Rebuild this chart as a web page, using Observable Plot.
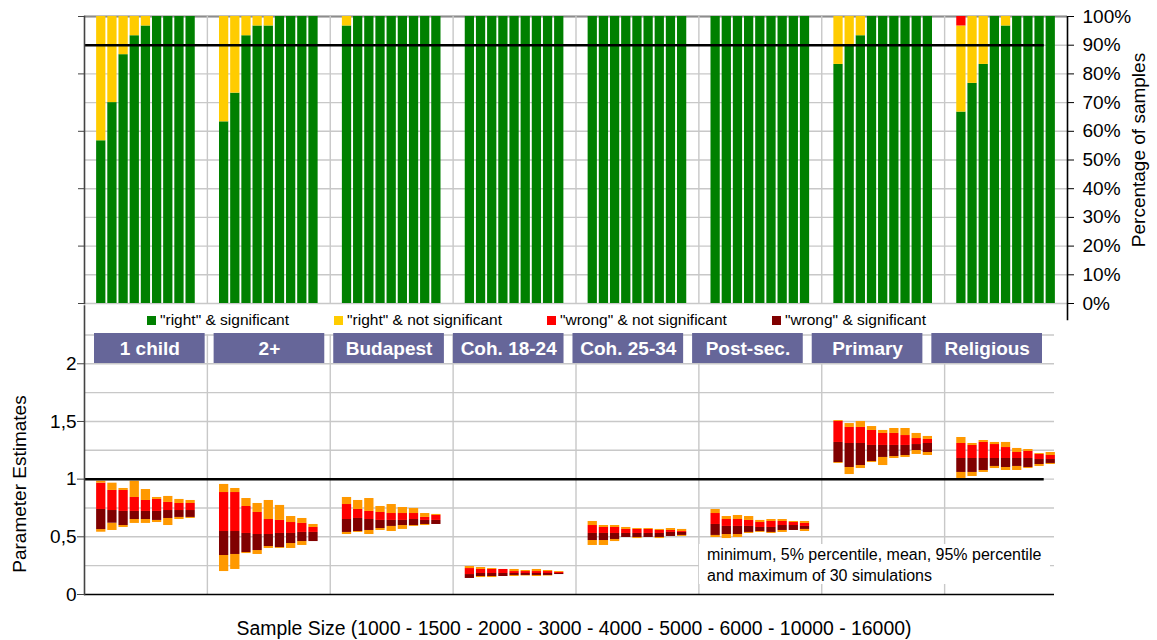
<!DOCTYPE html>
<html><head><meta charset="utf-8">
<script src="https://cdn.jsdelivr.net/npm/d3@7"></script>
<script src="https://cdn.jsdelivr.net/npm/@observablehq/plot@0.6"></script>
<style>
body{margin:0;background:#fff;font-family:"Liberation Sans",Arial,sans-serif;color:#000;}
#chart{position:relative;width:1157px;height:640px;overflow:hidden;background:#fff;}
#chart .layer{position:absolute;left:0;}
#legend{position:absolute;left:147px;top:311px;display:flex;gap:45px;font-size:15.5px;line-height:18px;white-space:nowrap;}
#legend .item{display:flex;align-items:center;gap:4px;}
#legend .sw{display:inline-block;width:9px;height:9px;}
#note{position:absolute;left:699px;top:544px;width:343px;height:40px;background:#fff;font-size:16px;line-height:21px;padding-left:8px;white-space:nowrap;}
.title{position:absolute;font-size:19px;white-space:nowrap;}
</style></head>
<body><div id="chart"></div>
<script>
// ---------- data ----------
const groups = ["1 child","2+","Budapest","Coh. 18-24","Coh. 25-34","Post-sec.","Primary","Religious"];
const sizes = ["1000","1500","2000","3000","4000","5000","6000","10000","16000"];

// top panel: percentage of 30 simulated samples per outcome
const topCats = ['"right" & significant','"right" & not significant','"wrong" & not significant','"wrong" & significant'];
const topColors = ["#008000","#FFCC00","#FF0000","#800000"];
const rightSig = [
  [56.7,70,86.7,93.3,96.7,100,100,100,100],
  [63.3,73.3,93.3,96.7,96.7,100,100,100,100],
  [96.7,100,100,100,100,100,100,100,100],
  [100,100,100,100,100,100,100,100,100],
  [100,100,100,100,100,100,100,100,100],
  [100,100,100,100,100,100,100,100,100],
  [83.3,90,93.3,100,100,100,100,100,100],
  [66.7,76.7,83.3,100,96.7,100,100,100,100]];
const rightNotSig = [
  [43.3,30,13.3,6.7,3.3,0,0,0,0],
  [36.7,26.7,6.7,3.3,3.3,0,0,0,0],
  [3.3,0,0,0,0,0,0,0,0],
  [0,0,0,0,0,0,0,0,0],
  [0,0,0,0,0,0,0,0,0],
  [0,0,0,0,0,0,0,0,0],
  [16.7,10,6.7,0,0,0,0,0,0],
  [30,23.3,16.7,0,3.3,0,0,0,0]];
const wrongNotSig = [
  [0,0,0,0,0,0,0,0,0],[0,0,0,0,0,0,0,0,0],[0,0,0,0,0,0,0,0,0],[0,0,0,0,0,0,0,0,0],
  [0,0,0,0,0,0,0,0,0],[0,0,0,0,0,0,0,0,0],[0,0,0,0,0,0,0,0,0],[3.3,0,0,0,0,0,0,0,0]];
const wrongSig = [
  [0,0,0,0,0,0,0,0,0],[0,0,0,0,0,0,0,0,0],[0,0,0,0,0,0,0,0,0],[0,0,0,0,0,0,0,0,0],
  [0,0,0,0,0,0,0,0,0],[0,0,0,0,0,0,0,0,0],[0,0,0,0,0,0,0,0,0],[0,0,0,0,0,0,0,0,0]];
const topTicks = [0,10,20,30,40,50,60,70,80,90,100];
const topLeftTicks = [0,20,40,60,80,100];
const topThreshold = [90];
const topAxisSpan = [-6, 100];   // right axis line runs a little below 0%

// bottom panel: parameter estimates (min, 5%, mean, 95%, max)
const minV = [
  [0.540,0.555,0.581,0.616,0.616,0.624,0.598,0.650,0.659],
  [0.199,0.217,0.355,0.347,0.399,0.399,0.399,0.425,0.459],
  [0.520,0.538,0.520,0.555,0.546,0.564,0.590,0.598,0.607],
  [0.139,0.147,0.147,0.156,0.156,0.160,0.156,0.160,0.173],
  [0.425,0.425,0.459,0.494,0.485,0.494,0.485,0.503,0.503],
  [0.494,0.485,0.494,0.529,0.538,0.529,0.538,0.555,0.546],
  [1.136,1.040,1.092,1.144,1.118,1.179,1.188,1.214,1.205],
  [1.006,1.023,1.058,1.092,1.075,1.075,1.092,1.110,1.127]];
const p5V = [
  [0.563,0.618,0.598,0.650,0.650,0.642,0.659,0.668,0.668],
  [0.338,0.347,0.364,0.381,0.416,0.407,0.442,0.459,0.459],
  [0.538,0.546,0.555,0.572,0.590,0.598,0.598,0.607,0.607],
  [0.139,0.156,0.156,0.156,0.165,0.165,0.165,0.165,0.173],
  [0.468,0.468,0.477,0.494,0.494,0.494,0.494,0.503,0.512],
  [0.512,0.520,0.520,0.538,0.546,0.538,0.555,0.555,0.564],
  [1.144,1.101,1.118,1.153,1.188,1.196,1.205,1.248,1.231],
  [1.058,1.058,1.075,1.110,1.101,1.110,1.101,1.127,1.136]];
const meanV = [
  [0.737,0.728,0.720,0.720,0.720,0.720,0.728,0.728,0.728],
  [0.546,0.546,0.529,0.520,0.520,0.529,0.529,0.538,0.538],
  [0.650,0.659,0.650,0.642,0.642,0.642,0.650,0.642,0.642],
  [0.173,0.182,0.182,0.182,0.182,0.182,0.182,0.182,0.182],
  [0.529,0.529,0.529,0.529,0.529,0.529,0.529,0.538,0.538],
  [0.607,0.590,0.590,0.590,0.581,0.581,0.598,0.598,0.590],
  [1.318,1.309,1.309,1.292,1.292,1.292,1.292,1.300,1.309],
  [1.179,1.179,1.179,1.179,1.179,1.179,1.179,1.170,1.170]];
const p95V = [
  [0.965,0.902,0.902,0.841,0.815,0.824,0.798,0.789,0.789],
  [0.884,0.884,0.763,0.711,0.650,0.642,0.624,0.616,0.581],
  [0.780,0.737,0.720,0.711,0.702,0.702,0.702,0.668,0.685],
  [0.225,0.217,0.217,0.217,0.199,0.199,0.199,0.199,0.191],
  [0.598,0.581,0.581,0.564,0.564,0.564,0.555,0.555,0.546],
  [0.702,0.650,0.650,0.642,0.624,0.633,0.633,0.624,0.616],
  [1.500,1.448,1.448,1.422,1.396,1.396,1.378,1.352,1.344],
  [1.309,1.292,1.318,1.300,1.274,1.231,1.240,1.214,1.205]];
const maxV = [
  [0.982,0.965,0.919,0.982,0.910,0.841,0.850,0.824,0.815],
  [0.954,0.919,0.832,0.789,0.815,0.772,0.676,0.659,0.607],
  [0.841,0.815,0.832,0.763,0.780,0.754,0.746,0.702,0.694],
  [0.243,0.234,0.225,0.217,0.217,0.208,0.217,0.208,0.199],
  [0.633,0.598,0.598,0.581,0.572,0.572,0.564,0.572,0.564],
  [0.737,0.676,0.685,0.676,0.642,0.650,0.650,0.633,0.633],
  [1.508,1.482,1.500,1.456,1.422,1.439,1.439,1.396,1.370],
  [1.361,1.309,1.335,1.318,1.318,1.266,1.257,1.222,1.231]];
const segNames = ["min-p5","p5-mean","mean-p95","p95-max"];
const segColors = ["#FF9900","#800000","#FF0000","#FF9900"];
const bottomTicks = [0,0.5,1,1.5,2];
const bottomGrid = [0.25,0.5,0.75,1,1.25,1.5,1.75,2,2.25];
const bottomDomain = [0,2.5];
const bottomThreshold = [1];

// ---------- layout ----------
const W = 1157;
const FONT = '"Liberation Sans", Arial, sans-serif';
const GRID = "#c8c8c8";
const xKeys = groups.flatMap(g => [g + "|a", ...sizes.map(s => g + "|" + s), g + "|b"]);
const xRange = [84, 1067];
const step = (xRange[1] - xRange[0]) / xKeys.length;
const xOpts = {domain: xKeys, range: xRange, paddingInner: 0.17, paddingOuter: 0.085, round: false, axis: null};
const sepKeys = groups.slice(1).map(g => g + "|a");
const lineStartKey = xKeys[0];
const lastKey = xKeys[xKeys.length - 1];
const lineEndKey = groups[groups.length - 1] + "|" + sizes[sizes.length - 2];
const svgStyle = {background: "transparent", overflow: "visible", fontFamily: FONT};

const chart = document.getElementById("chart");
function place(node, top) {
  node.classList.add("layer");
  node.style.top = top + "px";
  chart.appendChild(node);
}

// ---------- top plot ----------
const topSeries = [rightSig, rightNotSig, wrongNotSig, wrongSig];
const topRows = [];
groups.forEach((g, gi) => sizes.forEach((s, si) => {
  topCats.forEach((c, ci) => topRows.push({key: g + "|" + s, cat: c, pct: topSeries[ci][gi][si]}));
}));

const topPlot = Plot.plot({
  width: W, height: 322,
  marginLeft: 84, marginRight: W - 1067, marginTop: 16, marginBottom: 19,
  style: svgStyle,
  x: xOpts,
  y: {domain: [0, 100]},
  color: {domain: topCats, range: topColors},
  marks: [
    Plot.gridY(topTicks, {stroke: GRID, strokeOpacity: 1, strokeWidth: 1.4}),
    Plot.ruleY([100], {stroke: "#8c8c8c", strokeWidth: 2}),
    Plot.ruleX(sepKeys, {x: d => d, dx: -step / 2, stroke: GRID, strokeWidth: 1.4}),
    Plot.barY(topRows, {x: "key", y: "pct", fill: "cat"}),
    Plot.ruleY(topThreshold, {x1: () => lineStartKey, x2: () => lineEndKey, stroke: "#000", strokeWidth: 2.5}),
    Plot.axisY(topLeftTicks, {anchor: "left", tickSize: 6, tickFormat: () => "", label: null, stroke: "#444"}),
    Plot.axisY(topTicks, {anchor: "right", tickSize: 6, tickPadding: 9, tickFormat: d => d + "%", fontSize: 19, label: null, stroke: "#000"}),
    Plot.frame({anchor: "left", stroke: "#444", strokeWidth: 1.6}),
    Plot.ruleX([lastKey], {x: d => d, y1: () => topAxisSpan[0], y2: () => topAxisSpan[1], dx: step / 2, stroke: "#000", strokeWidth: 1.6})
  ]
});
place(topPlot, 0);

// ---------- bottom plot ----------
const segRows = [];
groups.forEach((g, gi) => sizes.forEach((s, si) => {
  const v = [minV, p5V, meanV, p95V, maxV].map(a => a[gi][si]);
  segNames.forEach((n, k) => segRows.push({key: g + "|" + s, part: n, lo: v[k], hi: v[k + 1]}));
}));

const bottomPlot = Plot.plot({
  width: W, height: 340,
  marginLeft: 84, marginRight: W - 1054, marginTop: 5.6, marginBottom: 46,
  style: svgStyle,
  x: xOpts,
  y: {domain: bottomDomain},
  color: {domain: segNames, range: segColors},
  marks: [
    Plot.gridY(bottomGrid, {stroke: GRID, strokeOpacity: 1, strokeWidth: 1.4}),
    Plot.ruleX(sepKeys, {x: d => d, y1: () => bottomDomain[0], y2: () => bottomGrid[bottomGrid.length - 1], dx: -step / 2, stroke: GRID, strokeWidth: 1.4}),
    Plot.barY(segRows, {x: "key", y1: "lo", y2: "hi", fill: "part"}),
    Plot.ruleY(bottomThreshold, {x1: () => lineStartKey, x2: () => lineEndKey, stroke: "#000", strokeWidth: 2.5}),
    Plot.ruleY([0], {stroke: "#000", strokeWidth: 1.5}),
    Plot.axisY(bottomTicks, {anchor: "left", tickSize: 7, tickPadding: 1, tickFormat: d => String(d).replace(".", ","), fontSize: 19, label: null, stroke: "#444"}),
    Plot.frame({anchor: "left", stroke: "#444", strokeWidth: 1.6})
  ]
});
place(bottomPlot, 300);

// ---------- category label boxes ----------
const labelPlot = Plot.plot({
  width: W, height: 36,
  marginLeft: 0, marginRight: 0, marginTop: 3, marginBottom: 3,
  style: svgStyle,
  x: {domain: groups, range: [94, 1042], paddingInner: 0.075, paddingOuter: 0, round: false, axis: null},
  marks: [
    Plot.cell(groups, {x: d => d, fill: "#666699"}),
    Plot.text(groups, {x: d => d, text: d => d, fill: "#fff", fontWeight: "bold", fontSize: 19})
  ]
});
place(labelPlot, 330);

// ---------- legend ----------
const legend = document.createElement("div");
legend.id = "legend";
topCats.forEach((c, i) => {
  const item = document.createElement("div");
  item.className = "item";
  const sw = document.createElement("span");
  sw.className = "sw";
  sw.style.background = topColors[i];
  const tx = document.createElement("span");
  tx.textContent = c;
  item.appendChild(sw); item.appendChild(tx);
  legend.appendChild(item);
});
chart.appendChild(legend);

// ---------- note & titles ----------
const note = document.createElement("div");
note.id = "note";
note.innerHTML = "minimum, 5% percentile, mean, 95% percentile<br>and maximum of 30 simulations";
chart.appendChild(note);

function title(text, cx, cy, rotate, size) {
  const d = document.createElement("div");
  d.className = "title";
  d.textContent = text;
  d.style.left = cx + "px";
  d.style.top = cy + "px";
  if (size) d.style.fontSize = size + "px";
  d.style.transform = "translate(-50%,-50%)" + (rotate ? " rotate(-90deg)" : "");
  chart.appendChild(d);
}
title("Percentage of samples", 1139, 150, true);
title("Parameter Estimates", 20, 484, true);
title("Sample Size (1000 - 1500 - 2000 - 3000 - 4000 - 5000 - 6000 - 10000 - 16000)", 574, 628, false, 19.4);
</script>
</body></html>
